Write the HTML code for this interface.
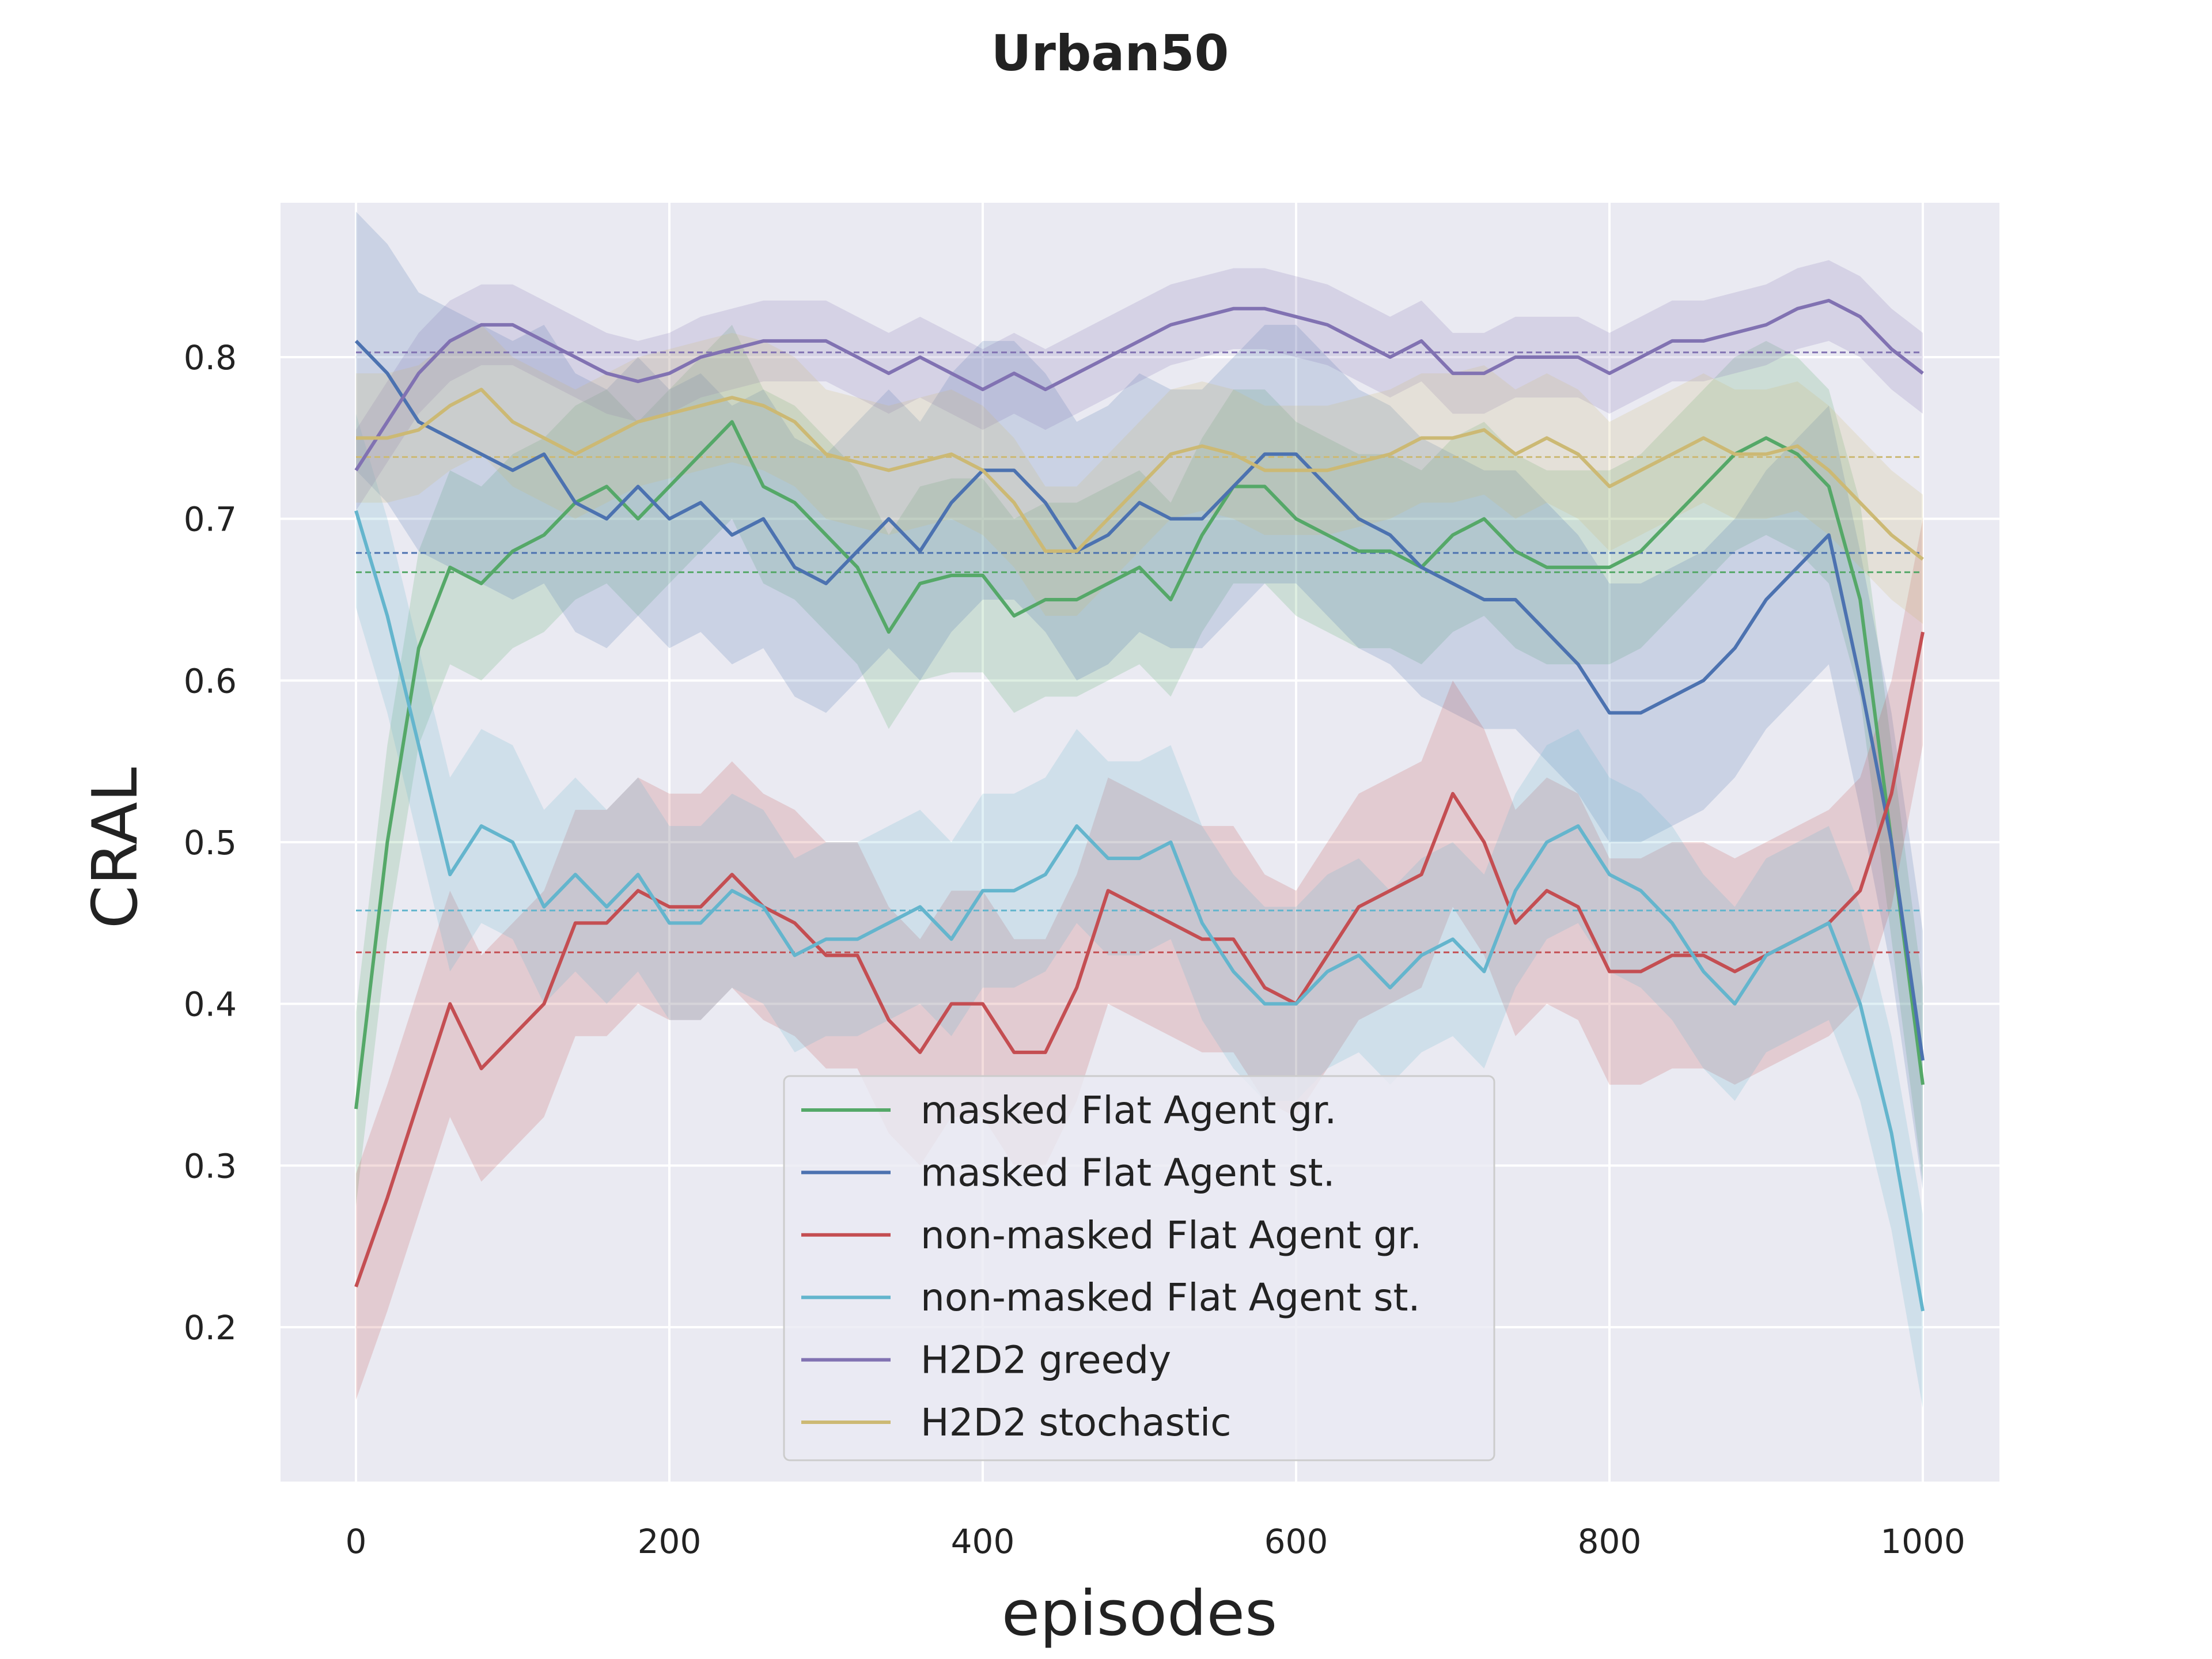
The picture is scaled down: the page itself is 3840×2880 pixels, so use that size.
<!DOCTYPE html>
<html><head><meta charset="utf-8"><style>
html,body{margin:0;padding:0;background:#fff;}
svg{display:block;font-family:"DejaVu Sans","Liberation Sans",sans-serif;}
</style></head><body>
<svg id="chart" width="3840" height="2880" viewBox="0 0 3840 2880" xmlns="http://www.w3.org/2000/svg">
<text x="1927" y="122" font-size="86" font-weight="bold" text-anchor="middle" fill="#222">Urban50</text>
<rect x="487" y="352" width="2984" height="2220" fill="#eaeaf2"/>
<g id="grid"></g>
<g id="bands"></g>
<g id="means"></g>
<g id="lines"></g>
<g id="ticks"></g>
<text x="0" y="0" transform="translate(237,1472) rotate(-90)" font-size="108" text-anchor="middle" fill="#222">CRAL</text>
<text x="1978" y="2838" font-size="108" text-anchor="middle" fill="#222">episodes</text>
<g id="legend"></g>
</svg>
<script>
const episodes = [0,20,40,60,80,100,120,140,160,180,200,220,240,260,280,300,320,340,360,380,400,420,440,460,480,500,520,540,560,580,600,620,640,660,680,700,720,740,760,780,800,820,840,860,880,900,920,940,960,980,1000];
const maskedGr = [0.335,0.5,0.62,0.67,0.66,0.68,0.69,0.71,0.72,0.70,0.72,0.74,0.76,0.72,0.71,0.69,0.67,0.63,0.66,0.665,0.665,0.64,0.65,0.65,0.66,0.67,0.65,0.69,0.72,0.72,0.70,0.69,0.68,0.68,0.67,0.69,0.70,0.68,0.67,0.67,0.67,0.68,0.70,0.72,0.74,0.75,0.74,0.72,0.65,0.50,0.35];
const maskedSt = [0.81,0.79,0.76,0.75,0.74,0.73,0.74,0.71,0.70,0.72,0.70,0.71,0.69,0.70,0.67,0.66,0.68,0.70,0.68,0.71,0.73,0.73,0.71,0.68,0.69,0.71,0.70,0.70,0.72,0.74,0.74,0.72,0.70,0.69,0.67,0.66,0.65,0.65,0.63,0.61,0.58,0.58,0.59,0.60,0.62,0.65,0.67,0.69,0.60,0.50,0.365];
const nonMaskedGr = [0.225,0.28,0.34,0.40,0.36,0.38,0.40,0.45,0.45,0.47,0.46,0.46,0.48,0.46,0.45,0.43,0.43,0.39,0.37,0.40,0.40,0.37,0.37,0.41,0.47,0.46,0.45,0.44,0.44,0.41,0.40,0.43,0.46,0.47,0.48,0.53,0.50,0.45,0.47,0.46,0.42,0.42,0.43,0.43,0.42,0.43,0.44,0.45,0.47,0.53,0.63];
const nonMaskedSt = [0.705,0.64,0.56,0.48,0.51,0.50,0.46,0.48,0.46,0.48,0.45,0.45,0.47,0.46,0.43,0.44,0.44,0.45,0.46,0.44,0.47,0.47,0.48,0.51,0.49,0.49,0.50,0.45,0.42,0.40,0.40,0.42,0.43,0.41,0.43,0.44,0.42,0.47,0.50,0.51,0.48,0.47,0.45,0.42,0.40,0.43,0.44,0.45,0.40,0.32,0.21];
const h2d2Greedy = [0.73,0.76,0.79,0.81,0.82,0.82,0.81,0.80,0.79,0.785,0.79,0.80,0.805,0.81,0.81,0.81,0.80,0.79,0.80,0.79,0.78,0.79,0.78,0.79,0.80,0.81,0.82,0.825,0.83,0.83,0.825,0.82,0.81,0.80,0.81,0.79,0.79,0.80,0.80,0.80,0.79,0.80,0.81,0.81,0.815,0.82,0.83,0.835,0.825,0.805,0.79];
const h2d2Stoch = [0.75,0.75,0.755,0.77,0.78,0.76,0.75,0.74,0.75,0.76,0.765,0.77,0.775,0.77,0.76,0.74,0.735,0.73,0.735,0.74,0.73,0.71,0.68,0.68,0.70,0.72,0.74,0.745,0.74,0.73,0.73,0.73,0.735,0.74,0.75,0.75,0.755,0.74,0.75,0.74,0.72,0.73,0.74,0.75,0.74,0.74,0.745,0.73,0.71,0.69,0.675];
const bandHalfWidths = [0.06,0.08,0.07,0.06,0.025,0.04];
const seriesNames = ["masked Flat Agent gr.","masked Flat Agent st.","non-masked Flat Agent gr.","non-masked Flat Agent st.","H2D2 greedy","H2D2 stochastic"];
const xTicks = [0,200,400,600,800,1000];
const yTicks = [0.2,0.3,0.4,0.5,0.6,0.7,0.8];

const colors = ["#55a868","#4c72b0","#c44e52","#64b5cd","#8172b2","#ccb974"];
const allSeries = [maskedGr,maskedSt,nonMaskedGr,nonMaskedSt,h2d2Greedy,h2d2Stoch];
const NS="http://www.w3.org/2000/svg";
const X = v => 618 + v*(3338-618)/1000;
const Y = v => 620 + (0.8-v)*(2304-620)/0.6;
function mk(tag, attrs, parent){const e=document.createElementNS(NS,tag);for(const k in attrs)e.setAttribute(k,attrs[k]);parent.appendChild(e);return e;}
const grid=document.getElementById('grid'), ticks=document.getElementById('ticks');
xTicks.forEach(t=>{
  const l=mk('line',{x1:X(t),x2:X(t),y1:352,y2:2572,stroke:'#fff','stroke-width':4},grid);
  
  
  const tx=mk('text',{x:X(t),y:2696,'font-size':58,'text-anchor':'middle',fill:'#222'},ticks);
  tx.textContent=t;
  
  
});
yTicks.forEach(t=>{
  const l=mk('line',{x1:487,x2:3471,y1:Y(t),y2:Y(t),stroke:'#fff','stroke-width':4},grid);
  
  
  const tx=mk('text',{x:411,y:Y(t)+21,'font-size':58,'text-anchor':'end',fill:'#222'},ticks);
  tx.textContent=t.toFixed(1);
  
  
});
const bands=document.getElementById('bands'), means=document.getElementById('means'), lines=document.getElementById('lines');
allSeries.forEach((s,i)=>{
  const w=bandHalfWidths[i];
  let up=s.map((v,j)=>X(episodes[j])+','+Y(v+w));
  let dn=s.map((v,j)=>X(episodes[j])+','+Y(v-w)).reverse();
  const b=mk('polygon',{points:up.concat(dn).join(' '),fill:colors[i],'fill-opacity':0.2,stroke:'none'},bands);
  
  
  const m=s.reduce((a,c)=>a+c,0)/s.length;
  const ml=mk('line',{x1:X(0),x2:X(1000),y1:Y(m),y2:Y(m),stroke:colors[i],'stroke-width':3,'stroke-dasharray':'10,6'},means);
  
  
  const p=mk('polyline',{points:s.map((v,j)=>X(episodes[j])+','+Y(v)).join(' '),fill:'none',stroke:colors[i],'stroke-width':6,'stroke-linejoin':'round'},lines);
  
  
});
const lg=document.getElementById('legend');
const box=mk('rect',{x:1361,y:1868,width:1233,height:667,rx:10,fill:'#eaeaf2','fill-opacity':0.8,stroke:'#cccccc','stroke-width':3},lg);


seriesNames.forEach((n,i)=>{
  const y=1927+i*108.4;
  const l=mk('line',{x1:1391,x2:1546,y1:y,y2:y,stroke:colors[i],'stroke-width':6},lg);
  
  
  const t=mk('text',{x:1598,y:y+23,'font-size':66,fill:'#222'},lg);
  t.textContent=n;
  
  
});
</script>
</body></html>
